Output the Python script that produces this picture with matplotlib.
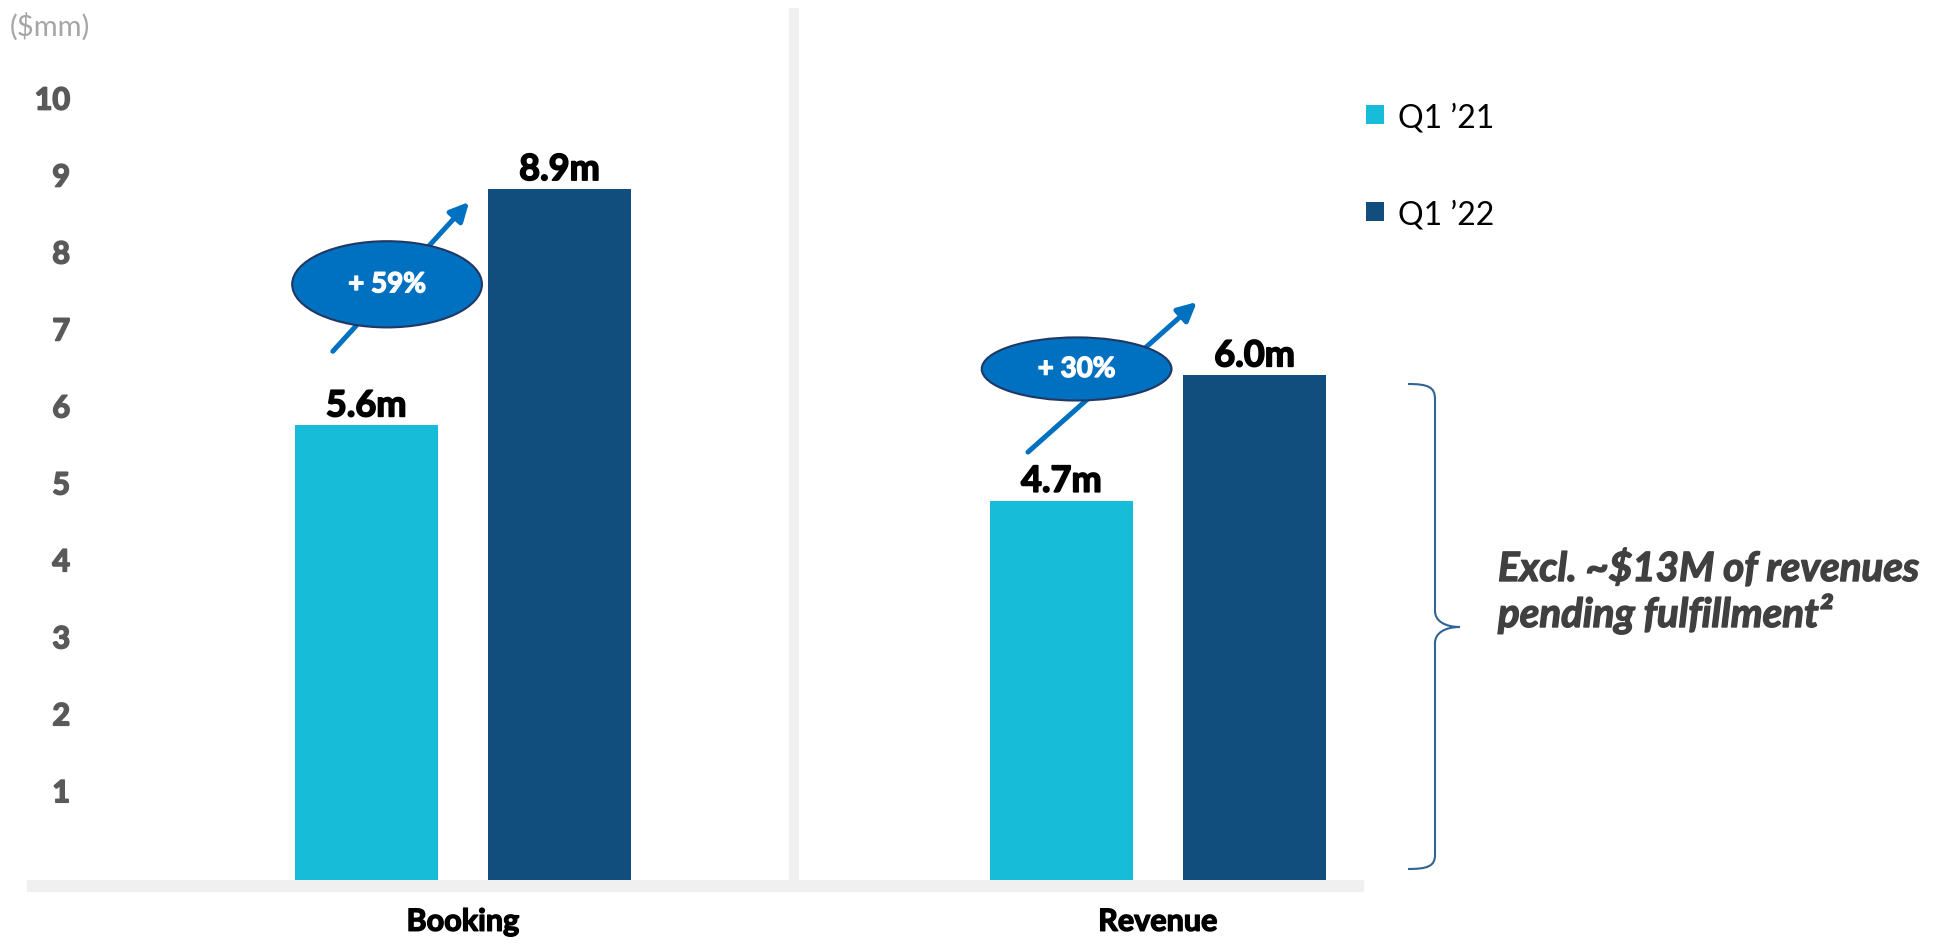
import numpy as np
import matplotlib
matplotlib.use('Agg')
import matplotlib.pyplot as plt
import matplotlib.patheffects as pe
from matplotlib.patches import Ellipse, Rectangle, PathPatch
from matplotlib.path import Path

plt.rcParams['font.family'] = ['Lato', 'DejaVu Sans']

# data
categories = ['Booking', 'Revenue']
series = ['Q1 \u201921', 'Q1 \u201922']
q1_21 = [5.75, 4.77]
q1_22 = [8.82, 6.40]
labels_21 = ['5.6m', '4.7m']
labels_22 = ['8.9m', '6.0m']
growth = ['+ 59%', '+ 30%']
yticks = list(range(1, 11))
note_lines = ['Excl. ~$13M of revenues', 'pending fulfillment\u00b2']

# growth call-outs (data coords)
arrow_tail = [(-0.187, 6.71), (0.813, 5.40)]
arrow_head = [(0.009, 8.65), (1.056, 7.35)]
oval_center = [(-0.109, 7.58), (0.883, 6.48)]
oval_height = [1.12, 0.82]

c21 = '#17BCD8'
c22 = '#114D7D'
blue = '#0070C0'
light = '#f0f0f0'


def thick(color, lw=1.0):
    # fake a heavier weight than Lato Bold
    return [pe.withStroke(linewidth=lw, foreground=color)]


W, H = 1959, 945
fig = plt.figure(figsize=(W / 100, H / 100), dpi=100)
ax = fig.add_axes([27 / W, (H - 881) / H, (1363 - 27) / W, (881 - 9) / H])

floor = -0.16
x = np.arange(len(categories))
w = 0.206
off = 0.139
b1 = ax.bar(x - off, np.array(q1_21) - floor, w, bottom=floor, color=c21, label=series[0], zorder=3)
b2 = ax.bar(x + off, np.array(q1_22) - floor, w, bottom=floor, color=c22, label=series[1], zorder=3)
for bars, labs in ((b1, labels_21), (b2, labels_22)):
    for t in ax.bar_label(bars, labels=labs, padding=2, fontsize=26, fontweight='bold', color='black'):
        t.set_path_effects(thick('black', 1.2))

ax.set_xlim(-0.627, 1.295)
ax.set_ylim(floor, 11.17)
for s in ax.spines.values():
    s.set_visible(False)

ax.set_yticks(yticks)
ax.tick_params(axis='y', length=0, pad=-31, labelsize=22, labelcolor='#595959')
for lbl in ax.get_yticklabels():
    lbl.set_fontweight('bold')
    lbl.set_path_effects(thick('#595959', 1.2))
ax.set_xticks(x, categories)
ax.tick_params(axis='x', length=0, pad=20, labelsize=22, labelcolor='black')
for lbl in ax.get_xticklabels():
    lbl.set_fontweight('bold')
    lbl.set_path_effects(thick('black', 1.0))

# divider between groups
ax.axvline(0.476, color=light, lw=7.2, zorder=1)
# base band
fig.add_artist(Rectangle((27 / W, (H - 892) / H), (1363 - 27) / W, 11 / H,
                         transform=fig.transFigure, color=light, zorder=0))

# arrows + ovals
for i in range(len(categories)):
    ax.annotate('', xy=arrow_head[i], xytext=arrow_tail[i],
                arrowprops=dict(arrowstyle='-|>', color=blue, lw=3.6, mutation_scale=28,
                                shrinkA=0, shrinkB=0), zorder=4)
    ax.add_patch(Ellipse(oval_center[i], 0.273, oval_height[i], facecolor=blue,
                         edgecolor='#1F3864', lw=1.5, zorder=5))
    ax.text(oval_center[i][0], oval_center[i][1], growth[i], color='white', fontsize=20,
            fontweight='bold', ha='center', va='center', zorder=6,
            path_effects=thick('white', 1.0))

fig.text(10 / W, 1 - 27 / H, '($mm)', fontsize=21, color='#a6a6a6', va='center')

fig.legend(handles=[b1, b2], loc='upper left', bbox_to_anchor=(1366 / W, 1 - 103 / H),
           frameon=False, fontsize=23, handlelength=0.55, handleheight=0.55,
           handletextpad=0.45, labelspacing=2.1, borderpad=0, borderaxespad=0)

# brace + note, pixel coords
ov = fig.add_axes([0, 0, 1, 1])
ov.set_xlim(0, W)
ov.set_ylim(H, 0)
ov.axis('off')
ov.patch.set_visible(False)
verts = [(1408, 385), (1428, 385), (1435, 388), (1435, 400),
         (1435, 612),
         (1435, 622), (1445, 628), (1460, 628),
         (1445, 628), (1435, 634), (1435, 644),
         (1435, 856),
         (1435, 867), (1428, 870), (1408, 870)]
codes = [Path.MOVETO, Path.CURVE4, Path.CURVE4, Path.CURVE4,
         Path.LINETO,
         Path.CURVE4, Path.CURVE4, Path.CURVE4,
         Path.CURVE4, Path.CURVE4, Path.CURVE4,
         Path.LINETO,
         Path.CURVE4, Path.CURVE4, Path.CURVE4]
ov.add_patch(PathPatch(Path(verts, codes), fill=False, edgecolor='#2F6496', lw=1.5))
for txt, yb in zip(note_lines, (582, 628)):
    ov.text(1498, yb, txt, fontsize=29, fontweight='bold', fontstyle='italic',
            color='#404040', va='baseline', path_effects=thick('#404040', 1.0))

fig.savefig('out.png', dpi=100)
